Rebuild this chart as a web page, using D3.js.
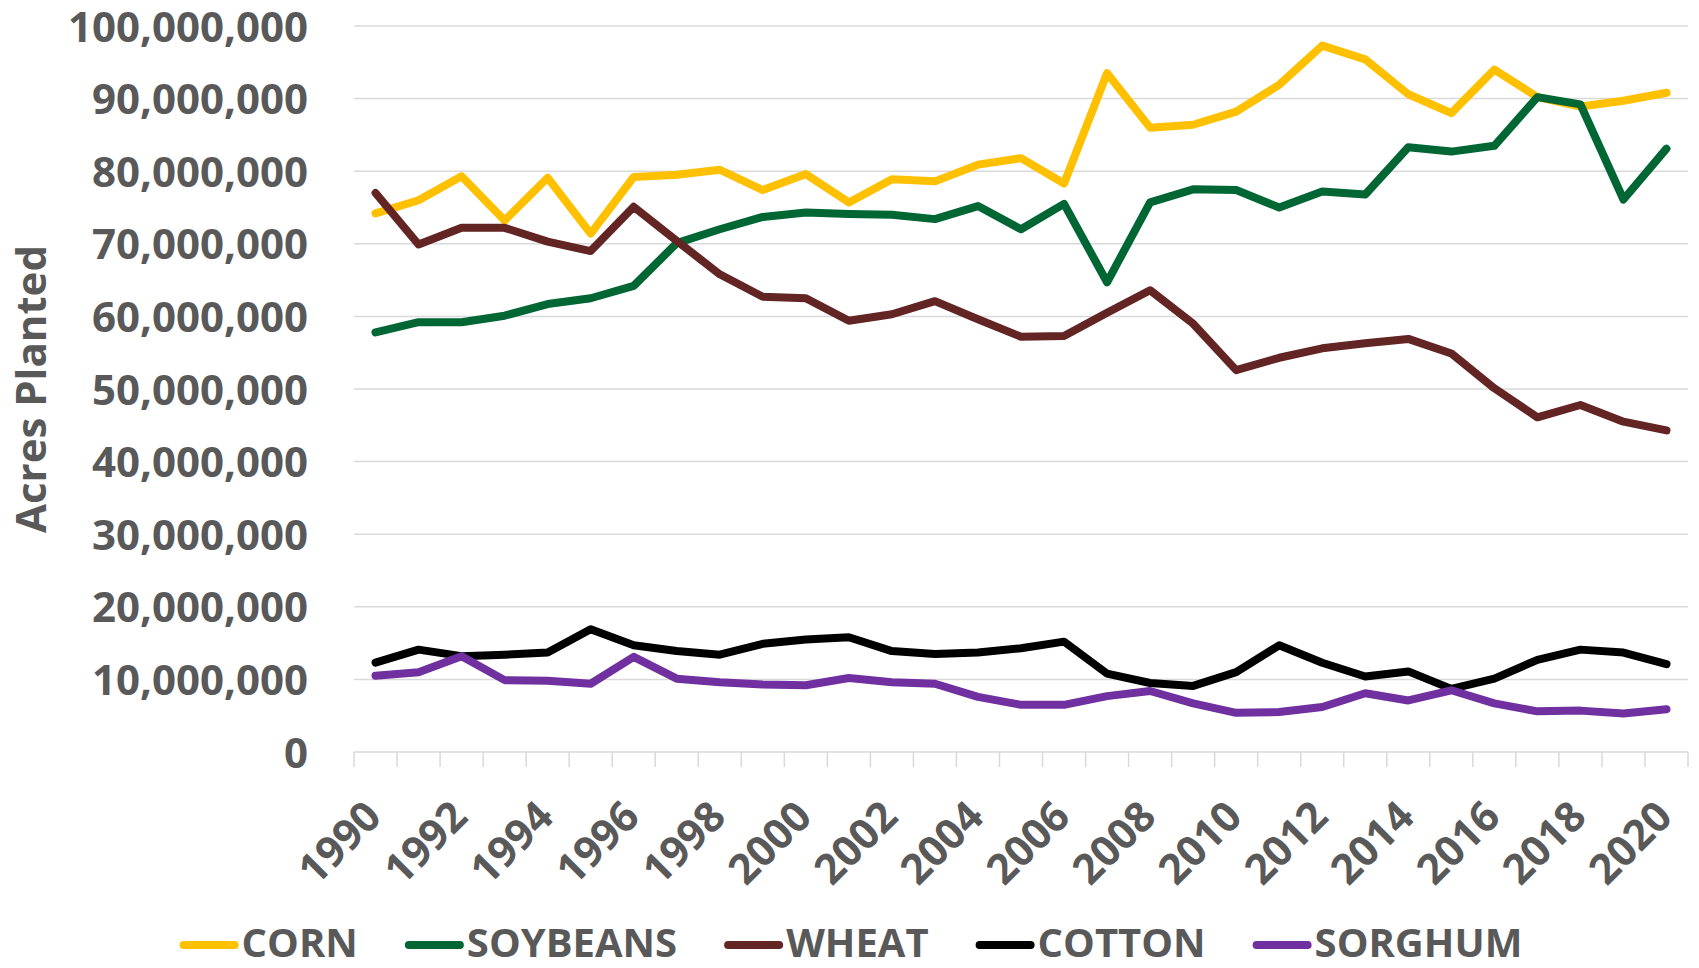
<!DOCTYPE html>
<html lang="en">
<head>
<meta charset="utf-8">
<title>Acres planted by crop, 1990-2020</title>
<style>
  body { margin: 0; background: #fff; }
  svg text { font-family: "Open Sans", "Noto Sans", sans-serif; font-weight: bold; fill: #595959; }
  .grid line { stroke: #d9d9d9; stroke-width: 1.5; }
  .series { fill: none; stroke-width: 8; stroke-linejoin: round; stroke-linecap: round; }
</style>
</head>
<body>
<div id="chart"></div>
<script src="https://cdn.jsdelivr.net/npm/d3@7"></script>
<script>
// years on the category axis
var years = [1990, 1991, 1992, 1993, 1994, 1995, 1996, 1997, 1998, 1999, 2000,
             2001, 2002, 2003, 2004, 2005, 2006, 2007, 2008, 2009, 2010,
             2011, 2012, 2013, 2014, 2015, 2016, 2017, 2018, 2019, 2020];

// acres planted, millions
var corn     = [74.2, 76.0, 79.3, 73.2, 79.1, 71.4, 79.2, 79.5, 80.2, 77.4, 79.6, 75.7, 78.9, 78.6, 80.9, 81.8,
                78.3, 93.5, 86.0, 86.4, 88.2, 91.9, 97.3, 95.4, 90.6, 88.0, 94.0, 90.2, 88.9, 89.7, 90.8];
var soybeans = [57.8, 59.2, 59.2, 60.1, 61.7, 62.5, 64.2, 70.1, 72.0, 73.7, 74.3, 74.1, 74.0, 73.4, 75.2, 72.0,
                75.5, 64.7, 75.7, 77.5, 77.4, 75.0, 77.2, 76.8, 83.3, 82.7, 83.5, 90.2, 89.2, 76.1, 83.1];
var wheat    = [77.0, 69.9, 72.2, 72.2, 70.3, 69.0, 75.1, 70.4, 65.8, 62.7, 62.5, 59.4, 60.3, 62.1, 59.6, 57.2,
                57.3, 60.5, 63.6, 59.0, 52.6, 54.3, 55.6, 56.3, 56.9, 54.9, 50.1, 46.1, 47.8, 45.5, 44.3];
var cotton   = [12.3, 14.1, 13.2, 13.4, 13.7, 16.9, 14.7, 13.9, 13.4, 14.9, 15.5, 15.8, 13.9, 13.5, 13.7, 14.3,
                15.2, 10.8, 9.5, 9.1, 11.0, 14.7, 12.3, 10.4, 11.1, 8.7, 10.1, 12.7, 14.1, 13.7, 12.1];
var sorghum  = [10.5, 11.0, 13.2, 9.9, 9.8, 9.4, 13.1, 10.1, 9.6, 9.3, 9.2, 10.2, 9.6, 9.4, 7.6, 6.5,
                6.5, 7.7, 8.4, 6.7, 5.4, 5.5, 6.2, 8.1, 7.1, 8.5, 6.7, 5.6, 5.7, 5.3, 5.9];

var seriesNames = ["CORN", "SOYBEANS", "WHEAT", "COTTON", "SORGHUM"];
var seriesData = [corn, soybeans, wheat, cotton, sorghum];
var seriesColors = ["#ffc000", "#006633", "#632523", "#000000", "#7030a0"];

var yTicks = [0, 10, 20, 30, 40, 50, 60, 70, 80, 90, 100];
var xLabels = years.filter(function(d) { return d % 2 === 0; });

var W = 1699, H = 968;
var margin = {top: 26, right: 11, bottom: 216, left: 354};
var fontSize = 42;

var svg = d3.select("#chart").append("svg")
  .attr("width", W)
  .attr("height", H);

var x = d3.scaleBand()
  .domain(years)
  .range([margin.left, W - margin.right])
  .padding(0);

var y = d3.scaleLinear()
  .domain([0, 100])
  .range([H - margin.bottom, margin.top]);

var fmt = d3.format(",");

// gridlines
svg.append("g").attr("class", "grid")
  .selectAll("line")
  .data(yTicks.filter(function(d) { return d > 0; }))
  .join("line")
  .attr("x1", margin.left).attr("x2", W - margin.right)
  .attr("y1", function(d) { return y(d); }).attr("y2", function(d) { return y(d); });

// y axis labels
var yAxis = svg.append("g")
  .attr("transform", "translate(" + (margin.left - 46) + ",0)")
  .call(d3.axisLeft(y).tickValues(yTicks).tickSize(0).tickPadding(0)
        .tickFormat(function(d) { return fmt(d * 1e6); }));
yAxis.select(".domain").remove();
yAxis.selectAll("text")
  .attr("font-size", fontSize)
  .attr("font-family", null)
  .attr("dy", "0.36em");

// x axis line + tick marks between categories
var xAxisG = svg.append("g").attr("class", "grid");
xAxisG.append("line")
  .attr("x1", margin.left).attr("x2", W - margin.right)
  .attr("y1", y(0)).attr("y2", y(0));
var bounds = years.map(function(d) { return x(d); }).concat([x.range()[1]]);
xAxisG.selectAll("line.tick")
  .data(bounds)
  .join("line")
  .attr("class", "tick")
  .attr("x1", function(d) { return d; }).attr("x2", function(d) { return d; })
  .attr("y1", y(0)).attr("y2", y(0) + 15);

// x labels, rotated
svg.append("g")
  .selectAll("text")
  .data(xLabels)
  .join("text")
  .attr("transform", function(d) {
    return "translate(" + (x(d) + x.bandwidth() / 2 - 13) + "," + (y(0) + 46) + ") rotate(-45)";
  })
  .attr("text-anchor", "end")
  .attr("dy", "0.71em")
  .attr("font-size", fontSize)
  .text(function(d) { return d; });

// y title
svg.append("text")
  .attr("transform", "translate(46," + ((y(0) + y(100)) / 2) + ") rotate(-90)")
  .attr("text-anchor", "middle")
  .attr("font-size", fontSize)
  .text("Acres Planted");

// lines
var line = d3.line()
  .x(function(d, i) { return x(years[i]) + x.bandwidth() / 2; })
  .y(function(d) { return y(d); });

svg.append("g")
  .selectAll("path")
  .data(seriesData)
  .join("path")
  .attr("class", "series")
  .attr("stroke", function(d, i) { return seriesColors[i]; })
  .attr("d", line);

// legend
var legend = svg.append("g");
var lx = 0;
seriesNames.forEach(function(name, i) {
  var item = legend.append("g").attr("transform", "translate(" + lx + ",0)");
  item.append("line")
    .attr("class", "series")
    .attr("stroke", seriesColors[i])
    .attr("x1", 4).attr("x2", 55)
    .attr("y1", 945).attr("y2", 945);
  var t = item.append("text")
    .attr("x", 62)
    .attr("y", 957)
    .attr("font-size", 40)
    .text(name);
  lx += 62 + t.node().getComputedTextLength() + 47;
});
var legendW = lx - 47;
legend.attr("transform", "translate(" + (851 - legendW / 2) + ",0)");
</script>
</body>
</html>
